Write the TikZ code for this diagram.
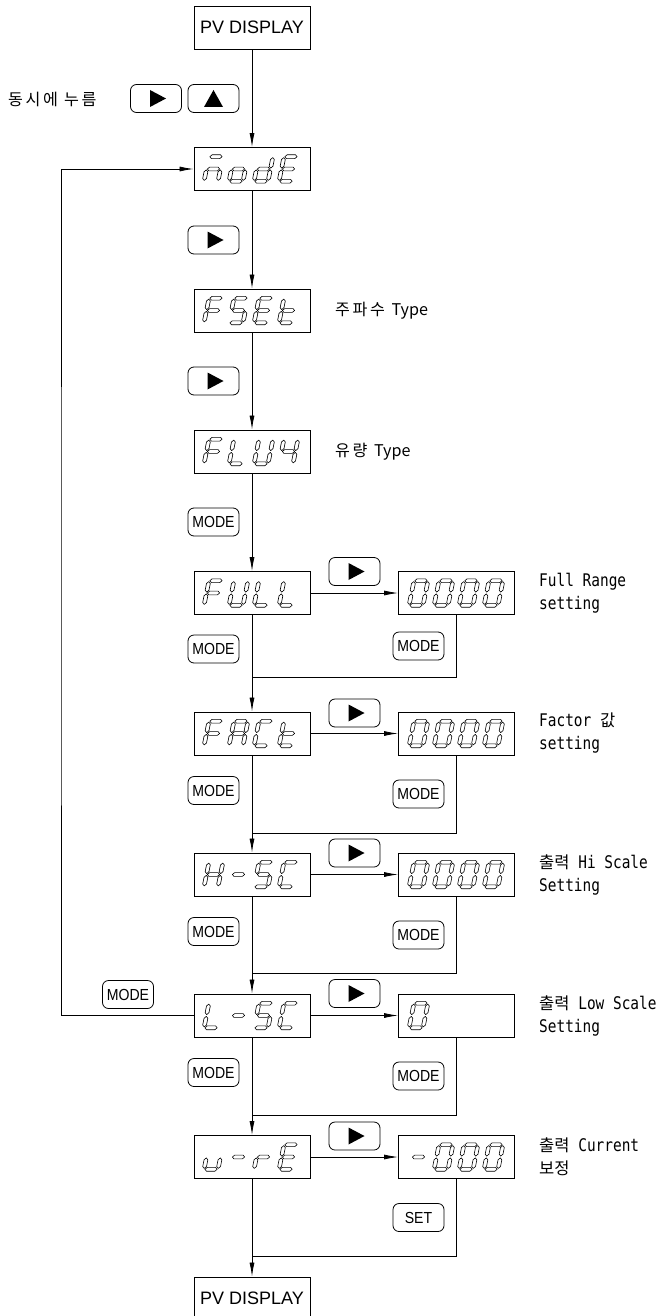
\documentclass[tikz,border=0pt]{standalone}
\usepackage{fontspec}
\setmainfont{Liberation Sans}
\newfontfamily\kr[Scale=0.95]{Noto Sans CJK KR}
\newfontfamily\krs[Scale=0.95,LetterSpace=16]{Noto Sans CJK KR}
\newfontfamily\mn[FakeStretch=0.83]{DejaVu Sans Mono}
\newfontfamily\nar[FakeStretch=0.88]{Liberation Sans}
\usetikzlibrary{arrows.meta}

% seven-segment geometry (pixels)
\def\sgW{7}
\def\sgH{12.3}
\def\sgT{1.9}
\def\sgG{0.9}
\newcommand\sgHor[1]{\draw[sg] (-\sgW+\sgG,#1) -- (-\sgW+\sgG+\sgT,#1-\sgT) -- (\sgW-\sgG-\sgT,#1-\sgT) -- (\sgW-\sgG,#1) -- (\sgW-\sgG-\sgT,#1+\sgT) -- (-\sgW+\sgG+\sgT,#1+\sgT) -- cycle;}
\newcommand\sgVer[3]{\draw[sg] (#1,#2+\sgG) -- (#1+\sgT,#2+\sgG+\sgT) -- (#1+\sgT,#3-\sgG-\sgT) -- (#1,#3-\sgG) -- (#1-\sgT,#3-\sgG-\sgT) -- (#1-\sgT,#2+\sgG+\sgT) -- cycle;}
\def\sgpa{\sgHor{-\sgH}}
\def\sgpg{\sgHor{0}}
\def\sgpd{\sgHor{\sgH}}
\def\sgpf{\sgVer{-\sgW}{-\sgH}{0}}
\def\sgpb{\sgVer{\sgW}{-\sgH}{0}}
\def\sgpe{\sgVer{-\sgW}{0}{\sgH}}
\def\sgpc{\sgVer{\sgW}{0}{\sgH}}
\newcommand\sevdig[3]{\begin{scope}[shift={(#1,#2)},xslant=0.2]\foreach \q in {#3}{\csname sgp\q\endcsname}\end{scope}}
% four characters in a box whose left edge is #1, centre y #2
\newcommand\fourchars[6]{%
  \sevdig{#1+19.5}{#2}{#3}\sevdig{#1+44.5}{#2}{#4}%
  \sevdig{#1+69.5}{#2}{#5}\sevdig{#1+94.5}{#2}{#6}}
\newcommand\playbtn[3]{\node[btn] (#1) at (#2,#3) {};
  \fill[shift={(#1.center)}] (-6,-8.5) -- (10,0) -- (-6,8.5) -- cycle;}

\begin{document}
\begin{tikzpicture}[x=1pt,y=-1pt,
  box/.style={draw, line width=0.9pt, minimum width=116pt, minimum height=43pt, inner sep=0pt},
  pvbox/.style={box, font=\fontsize{18}{18}\selectfont},
  btn/.style={draw, rounded corners=6pt, line width=0.8pt, minimum width=51pt, minimum height=28pt, inner sep=0pt},
  modebtn/.style={btn, font=\nar\fontsize{16}{16}\selectfont},
  ln/.style={line width=0.8pt},
  arr/.style={ln, -{Latex[length=14pt,width=5pt]}},
  sg/.style={line width=0.6pt, line join=round},
  lbl/.style={anchor=west, inner sep=0pt, align=left, font=\fontsize{17.4}{23}\selectfont},
  krlbl/.style={anchor=west, inner sep=0pt, font=\kr\fontsize{17}{17}\selectfont}]
\useasboundingbox (0,0) rectangle (664,1316);
\clip (0,0) rectangle (664,1316);

% ---- main column boxes
\node[pvbox] (pv1) at (252,27.5) {PV DISPLAY};
\node[box] (mode) at (252,169) {};
\node[box] (fset) at (252,310.5) {};
\node[box] (flu4) at (252,451.5) {};
\node[box] (full) at (252,593) {};
\node[box] (fact) at (252,733.5) {};
\node[box] (hsc) at (252,874.5) {};
\node[box] (lsc) at (252,1015.5) {};
\node[box] (ure) at (252,1157) {};
\node[pvbox] (pv2) at (252,1298.5) {PV DISPLAY};

% ---- right column boxes
\node[box] (r1) at (456.5,593) {};
\node[box] (r2) at (456.5,733.5) {};
\node[box] (r3) at (456.5,874.5) {};
\node[box] (r4) at (456.5,1015.5) {};
\node[box] (r5) at (456.5,1157) {};

% ---- seven-segment contents
\fourchars{194}{169}{a,g,e,c}{g,c,d,e}{b,c,d,e,g}{a,f,g,e,d}
\fourchars{194}{310.5}{a,f,g,e}{a,f,g,c,d}{a,f,g,e,d}{f,g,e,d}
\fourchars{194}{451.5}{a,f,g,e}{f,e,d}{f,b,e,c,d}{f,g,b,c}
\fourchars{194}{593}{a,f,g,e}{f,b,e,c,d}{f,e,d}{f,e,d}
\fourchars{194}{733.5}{a,f,g,e}{a,b,c,e,f,g}{a,f,e,d}{f,g,e,d}
\fourchars{194}{874.5}{f,b,g,e,c}{g}{a,f,g,c,d}{a,f,e,d}
\fourchars{194}{1015.5}{f,e,d}{g}{a,f,g,c,d}{a,f,e,d}
\fourchars{194}{1157}{e,d,c}{g}{e,g}{a,f,g,e,d}
\fourchars{399}{593}{a,b,c,d,e,f}{a,b,c,d,e,f}{a,b,c,d,e,f}{a,b,c,d,e,f}
\fourchars{399}{733.5}{a,b,c,d,e,f}{a,b,c,d,e,f}{a,b,c,d,e,f}{a,b,c,d,e,f}
\fourchars{399}{874.5}{a,b,c,d,e,f}{a,b,c,d,e,f}{a,b,c,d,e,f}{a,b,c,d,e,f}
\sevdig{418.5}{1015.5}{a,b,c,d,e,f}
\fourchars{399}{1157}{g}{a,b,c,d,e,f}{a,b,c,d,e,f}{a,b,c,d,e,f}

% ---- buttons
\playbtn{b1}{156}{98.5}
\node[btn] (b2) at (213.5,98.5) {};
\fill[shift={(b2.center)}] (-9.5,8.5) -- (9.5,8.5) -- (0,-8.5) -- cycle;
\playbtn{b3}{213.5}{240}
\playbtn{b4}{213.5}{381}
\node[modebtn] (m1) at (213.5,522) {MODE};
\playbtn{p1}{354.5}{571.5}
\node[modebtn] (ml1) at (213.5,649) {MODE};
\node[modebtn] (mr1) at (418.5,646) {MODE};
\playbtn{p2}{354.5}{713}
\node[modebtn] (ml2) at (213.5,790.5) {MODE};
\node[modebtn] (mr2) at (418.5,794) {MODE};
\playbtn{p3}{354.5}{853}
\node[modebtn] (ml3) at (213.5,931.5) {MODE};
\node[modebtn] (mr3) at (418.5,935) {MODE};
\playbtn{p4}{354.5}{993.5}
\node[modebtn] (mfb) at (128,994.5) {MODE};
\node[modebtn] (ml4) at (213.5,1072.5) {MODE};
\node[modebtn] (mr4) at (418.5,1076) {MODE};
\playbtn{p5}{354.5}{1136}
\node[modebtn] (setb) at (418.5,1217.5) {SET};

% ---- texts
\node[krlbl] (t0) at (8,99) {\krs 동시에 누름};
\node[krlbl] (ta) at (335,310.5) {{\krs 주파수}\hspace{3pt} Type};
\node[krlbl] (tb) at (335,451.5) {{\krs 유량}\hspace{3pt} Type};
\node[lbl] (t1) at (539,593) {\mn Full Range\\\mn setting};
\node[lbl] (t2) at (539,733.5) {\mn Factor {\kr 값}\\\mn setting};
\node[lbl] (t3) at (539,874.5) {{\kr 출력}\mn{} Hi Scale\\\mn Setting};
\node[lbl] (t4) at (539,1015.5) {{\kr 출력}\mn{} Low Scale\\\mn Setting};
\node[lbl] (t5) at (539,1157) {{\kr 출력}\mn{} Current\\\kr 보정};

% ---- junction points
\coordinate (j1) at (252,677);
\coordinate (j2) at (252,833);
\coordinate (j3) at (252,973);
\coordinate (j4) at (252,1115);
\coordinate (j5) at (252,1256);
\coordinate (fbx) at (61,600);

% ---- connectors
\draw[arr] (pv1.south) -- (mode.north);
\draw[arr] (mode.south) -- (fset.north);
\draw[arr] (fset.south) -- (flu4.north);
\draw[arr] (flu4.south) -- (full.north);
\draw[arr] (full.south) -- (fact.north);
\draw[arr] (fact.south) -- (hsc.north);
\draw[arr] (hsc.south) -- (lsc.north);
\draw[arr] (lsc.south) -- (ure.north);
\draw[arr] (ure.south) -- (pv2.north);

\draw[arr] (full.east) -- (r1.west);
\draw[arr] (fact.east) -- (r2.west);
\draw[arr] (hsc.east) -- (r3.west);
\draw[arr] (lsc.east) -- (r4.west);
\draw[arr] (ure.east) -- (r5.west);

\draw[ln] (r1.south) |- (j1);
\draw[ln] (r2.south) |- (j2);
\draw[ln] (r3.south) |- (j3);
\draw[ln] (r4.south) |- (j4);
\draw[ln] (r5.south) |- (j5);

\draw[arr] (lsc.west) -| (fbx) |- (mode.west);
\end{tikzpicture}
\end{document}
